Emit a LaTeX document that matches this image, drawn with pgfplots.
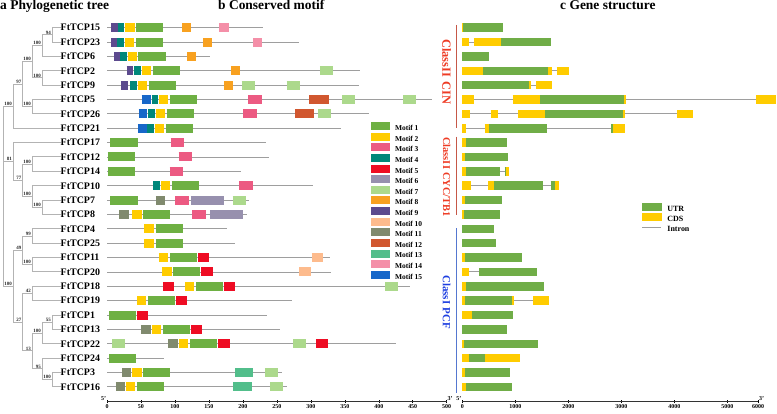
\documentclass[border=0pt]{standalone}
\usepackage{pgfplots}
\pgfplotsset{compat=1.18}
\usepackage{fontspec}
\setmainfont{Liberation Serif}
\newcommand\fs[1]{\fontsize{#1}{#1}\selectfont\bfseries}
\definecolor{mA}{HTML}{6EB043}
\definecolor{mB}{HTML}{FFCC00}
\definecolor{mC}{HTML}{EC5A82}
\definecolor{mD}{HTML}{00877A}
\definecolor{mE}{HTML}{EE0C23}
\definecolor{mF}{HTML}{9790AE}
\definecolor{mG}{HTML}{ACD98C}
\definecolor{mH}{HTML}{F8A120}
\definecolor{mI}{HTML}{5C4A8E}
\definecolor{mJ}{HTML}{FDBB8D}
\definecolor{mK}{HTML}{808A6E}
\definecolor{mL}{HTML}{D1572F}
\definecolor{mM}{HTML}{52BE8B}
\definecolor{mN}{HTML}{F48FA8}
\definecolor{mO}{HTML}{1767C9}
\definecolor{utr}{HTML}{70AD47}
\definecolor{cds}{HTML}{FFCC00}
\definecolor{bb}{HTML}{9E9E9E}
\definecolor{treec}{HTML}{B3B3B3}
\definecolor{clred}{HTML}{EE3B24}
\definecolor{clredl}{HTML}{C65848}
\definecolor{clblue}{HTML}{1E3FE0}
\definecolor{clbluel}{HTML}{5577D0}
\pgfplotsset{rows/.style={scale only axis, height=388.4bp, ymin=0, ymax=27.03, y dir=reverse, clip=false, unbounded coords=jump, anchor=south west},
 mot/.style={color=#1, line width=9bp},
 gen/.style={color=#1, line width=8.5bp}}
\tikzset{bs/.style={anchor=south east, inner sep=0.6bp, font=\fs{5}, text=black!85}}
\begin{document}
\begin{tikzpicture}[x=1bp,y=1bp]
\useasboundingbox (0,0) rectangle (777,413);
% titles
\node[anchor=base west, inner sep=0pt, font=\fs{13.5}] at (0,403) {a Phylogenetic tree};
\node[anchor=base west, inner sep=0pt, font=\fs{13.5}] at (218,403) {b Conserved motif};
\node[anchor=base west, inner sep=0pt, font=\fs{13.5}] at (560,403) {c Gene structure};
% ---------------- tree
\begin{axis}[rows, at={(0bp,11.3bp)}, width=107bp, xmin=0, xmax=107, hide axis]
\addplot[treec, line width=1bp] coordinates {
(60.5,1)(52.3,1)(52.3,2)(60.5,2) (nan,nan)
(52.3,1.5)(42.3,1.5)(42.3,3)(60.5,3) (nan,nan)
(60.5,4)(42.3,4)(42.3,5)(60.5,5) (nan,nan)
(42.3,2.25)(32.3,2.25)(32.3,4.5)(42.3,4.5) (nan,nan)
(60.5,6)(32.3,6)(32.3,7)(60.5,7) (nan,nan)
(32.3,3.375)(22.7,3.375)(22.7,6.5)(32.3,6.5) (nan,nan)
(22.7,4.9375)(13.3,4.9375)(13.3,8)(60.5,8) (nan,nan)
(60.5,10)(32.3,10)(32.3,11)(60.5,11) (nan,nan)
(60.5,13)(42.3,13)(42.3,14)(60.5,14) (nan,nan)
(60.5,12)(32.3,12)(32.3,13.5)(42.3,13.5) (nan,nan)
(32.3,10.5)(22.7,10.5)(22.7,12.75)(32.3,12.75) (nan,nan)
(60.5,9)(13.3,9)(13.3,11.625)(22.7,11.625) (nan,nan)
(60.5,15)(32.3,15)(32.3,16)(60.5,16) (nan,nan)
(60.5,17)(32.3,17)(32.3,18)(60.5,18) (nan,nan)
(32.3,15.5)(22.7,15.5)(22.7,17.5)(32.3,17.5) (nan,nan)
(60.5,19)(32.3,19)(32.3,20)(60.5,20) (nan,nan)
(60.5,21)(52.3,21)(52.3,22)(60.5,22) (nan,nan)
(52.3,21.5)(42.3,21.5)(42.3,23)(60.5,23) (nan,nan)
(60.5,25)(52.3,25)(52.3,26)(60.5,26) (nan,nan)
(60.5,24)(42.3,24)(42.3,25.5)(52.3,25.5) (nan,nan)
(42.3,22.25)(32.3,22.25)(32.3,24.75)(42.3,24.75) (nan,nan)
(32.3,19.5)(22.7,19.5)(22.7,23.5)(32.3,23.5) (nan,nan)
(22.7,16.5)(13.3,16.5)(13.3,21.5)(22.7,21.5) (nan,nan)
(13.3,6.46875)(3.3,6.46875)(3.3,19)(13.3,19) (nan,nan)
(3.3,10.3125)(13.3,10.3125)
};
\node[bs] at (axis cs:51.7,1.5) {94};
\node[bs] at (axis cs:41.7,2.25) {100};
\node[bs] at (axis cs:41.7,4.5) {100};
\node[bs] at (axis cs:31.7,3.375) {100};
\node[bs] at (axis cs:31.7,6.5) {100};
\node[bs] at (axis cs:22.1,4.9375) {97};
\node[bs] at (axis cs:12.7,6.46875) {100};
\node[bs] at (axis cs:31.7,10.5) {100};
\node[bs] at (axis cs:41.7,13.5) {100};
\node[bs] at (axis cs:31.7,12.75) {100};
\node[bs] at (axis cs:22.1,11.625) {77};
\node[bs] at (axis cs:12.7,10.3125) {81};
\node[bs] at (axis cs:31.7,15.5) {99};
\node[bs] at (axis cs:31.7,17.5) {100};
\node[bs] at (axis cs:22.1,16.5) {49};
\node[bs] at (axis cs:31.7,19.5) {42};
\node[bs] at (axis cs:51.7,21.5) {55};
\node[bs] at (axis cs:41.7,22.25) {100};
\node[bs] at (axis cs:51.7,25.5) {100};
\node[bs] at (axis cs:41.7,24.75) {95};
\node[bs] at (axis cs:31.7,23.5) {13};
\node[bs] at (axis cs:22.1,21.5) {27};
\node[bs] at (axis cs:12.7,19) {100};
\end{axis}
% ---------------- motifs
\begin{axis}[rows, at={(107bp,11.3bp)}, width=339.7bp, xmin=0, xmax=500,
 axis x line=bottom, axis y line=left, axis line style={-, line width=0.6bp, black!80},
 y axis line style={draw=none},
 xtick={0,50,...,500}, ytick={1,...,26},
 yticklabels={FtTCP15,FtTCP23,FtTCP6,FtTCP2,FtTCP9,FtTCP5,FtTCP26,FtTCP21,FtTCP17,FtTCP12,FtTCP14,FtTCP10,FtTCP7,FtTCP8,FtTCP4,FtTCP25,FtTCP11,FtTCP20,FtTCP18,FtTCP19,FtTCP1,FtTCP13,FtTCP22,FtTCP24,FtTCP3,FtTCP16},
 ytick style={draw=none},
 yticklabel style={anchor=west, inner sep=0pt, xshift=-45bp, font=\fs{10}},
 xticklabel style={font=\fs{6}, inner sep=1.5bp},
 /pgf/number format/assume math mode=true,
 tick align=center, major tick length=3bp,
 xtick style={line width=0.5bp, black},
 legend cell align=left,
 legend style={at={(0.7654,0.7201)}, anchor=north west, draw=none, fill=none, inner sep=0pt, row sep=0.63bp, font=\fs{7.5}, nodes={inner xsep=1.5bp, inner ysep=0pt}},
 legend image code/.code={\draw[line width=8bp] (0bp,2.6bp) -- (18.3bp,2.6bp);}
]
\addplot[bb, line width=0.9bp, forget plot] coordinates {
(0,1)(230,1)(nan,nan)(0,2)(282,2)(nan,nan)(0,3)(151.6,3)(nan,nan)(0,4)(372.4,4)(nan,nan)(0,5)(371.4,5)(nan,nan)
(0,6)(478.4,6)(nan,nan)(0,7)(386.1,7)(nan,nan)(0,8)(344,8)(nan,nan)(0,9)(234,9)(nan,nan)(0,10)(238,10)(nan,nan)
(0,11)(196.7,11)(nan,nan)(0,12)(303.7,12)(nan,nan)(0,13)(209,13)(nan,nan)(0,14)(206,14)(nan,nan)(0,15)(177.1,15)(nan,nan)
(0,16)(188.4,16)(nan,nan)(0,17)(328.2,17)(nan,nan)(0,18)(329.7,18)(nan,nan)(0,19)(446.5,19)(nan,nan)(0,20)(272,20)(nan,nan)
(0,21)(235,21)(nan,nan)(0,22)(254.3,22)(nan,nan)(0,23)(425,23)(nan,nan)(0,24)(84.4,24)(nan,nan)(0,25)(257,25)(nan,nan)(0,26)(264.9,26)};
% Motif 1
\addplot[mot=mA] coordinates {
(42.7,1)(82.9,1)(nan,nan)(42.7,2)(81.9,2)(nan,nan)(46.1,3)(86.3,3)(nan,nan)(67.2,4)(107.4,4)(nan,nan)(61.3,5)(101.6,5)(nan,nan)
(92.7,6)(133,6)(nan,nan)(87.8,7)(128,7)(nan,nan)(86.8,8)(127.1,8)(nan,nan)(4.9,9)(45.1,9)(nan,nan)(1,10)(41.2,10)(nan,nan)
(1,11)(41.2,11)(nan,nan)(95.2,12)(135.4,12)(nan,nan)(4.9,13)(45.1,13)(nan,nan)(53.5,14)(93.2,14)(nan,nan)(71.6,15)(111.4,15)(nan,nan)
(71.6,16)(111.4,16)(nan,nan)(92.7,17)(133,17)(nan,nan)(97.1,18)(137.4,18)(nan,nan)(131,19)(170.7,19)(nan,nan)(60.3,20)(100.6,20)(nan,nan)
(3,21)(42.7,21)(nan,nan)(81.9,22)(122.2,22)(nan,nan)(122.2,23)(162.4,23)(nan,nan)(3,24)(42.7,24)(nan,nan)(53.5,25)(93.2,25)(nan,nan)(44.2,26)(83.9,26)};
\addlegendentry{Motif 1}
% Motif 2
\addplot[mot=mB] coordinates {
(26.5,1)(41.2,1)(nan,nan)(26.5,2)(40.2,2)(nan,nan)(30.4,3)(43.7,3)(nan,nan)(51.5,4)(64.8,4)(nan,nan)(45.1,5)(59.4,5)(nan,nan)
(77,6)(90.3,6)(nan,nan)(72.1,7)(85.4,7)(nan,nan)(70.6,8)(83.9,8)(nan,nan)(79.5,12)(92.7,12)(nan,nan)(37.3,14)(51,14)(nan,nan)
(55,15)(69.2,15)(nan,nan)(55,16)(69.2,16)(nan,nan)(76.5,17)(90.3,17)(nan,nan)(81,18)(95.2,18)(nan,nan)(114.8,19)(128.5,19)(nan,nan)
(44.2,20)(57.9,20)(nan,nan)(65.7,22)(79.5,22)(nan,nan)(106,23)(119.7,23)(nan,nan)(37.3,25)(51,25)(nan,nan)(28,26)(41.7,26)};
\addlegendentry{Motif 2}
% Motif 3
\addplot[mot=mC] coordinates {
(208,6)(228.6,6)(nan,nan)(200.7,7)(220.3,7)(nan,nan)(93.7,9)(113.8,9)(nan,nan)(105.5,10)(125.6,10)(nan,nan)
(92.2,11)(112.4,11)(nan,nan)(194.3,12)(214.4,12)(nan,nan)(100.1,13)(120.7,13)(nan,nan)(125.6,14)(145.7,14)};
\addlegendentry{Motif 3}
% Motif 4
\addplot[mot=mD] coordinates {
(15.7,1)(25.5,1)(nan,nan)(15.2,2)(25,2)(nan,nan)(19.1,3)(28.9,3)(nan,nan)(40.2,4)(50,4)(nan,nan)(33.9,5)(43.7,5)(nan,nan)
(65.7,6)(75.5,6)(nan,nan)(60.8,7)(70.7,7)(nan,nan)(59.4,8)(69.2,8)(nan,nan)(68.2,12)(78,12)};
\addlegendentry{Motif 4}
% Motif 5
\addplot[mot=mE] coordinates {
(134,17)(150.6,17)(nan,nan)(138.8,18)(155.5,18)(nan,nan)(82.4,19)(99.1,19)(nan,nan)(172.2,19)(188.9,19)(nan,nan)
(101.6,20)(118.2,20)(nan,nan)(43.7,21)(60.8,21)(nan,nan)(123.1,22)(139.8,22)(nan,nan)(163.4,23)(180.5,23)(nan,nan)(307.6,23)(324.8,23)};
\addlegendentry{Motif 5}
% Motif 6
\addplot[mot=mF] coordinates {(123.1,13)(172.2,13)(nan,nan)(151.6,14)(200.7,14)};
\addlegendentry{Motif 6}
% Motif 7
\addplot[mot=mG] coordinates {
(313.5,4)(332.3,4)(nan,nan)(198.2,5)(217.3,5)(nan,nan)(264.5,5)(284.1,5)(nan,nan)(345.6,6)(364.7,6)(nan,nan)(436.1,6)(454.8,6)(nan,nan)
(311.1,7)(329.7,7)(nan,nan)(185,13)(204.1,13)(nan,nan)(409.2,19)(427.9,19)(nan,nan)(7.9,23)(26.5,23)(nan,nan)(274.2,23)(292.9,23)(nan,nan)
(232.5,25)(251.7,25)(nan,nan)(239.9,26)(258.5,26)};
\addlegendentry{Motif 7}
% Motif 8
\addplot[mot=mH] coordinates {
(110.4,1)(123.1,1)(nan,nan)(141.3,2)(154.1,2)(nan,nan)(118.2,3)(131,3)(nan,nan)(182.5,4)(195.8,4)(nan,nan)(172.2,5)(185,5)};
\addlegendentry{Motif 8}
% Motif 9
\addplot[mot=mI] coordinates {
(5.9,1)(15.7,1)(nan,nan)(5.9,2)(15.2,2)(nan,nan)(10.3,3)(19.1,3)(nan,nan)(28.9,4)(38.8,4)(nan,nan)(20.6,5)(30.9,5)};
\addlegendentry{Motif 9}
% Motif 10
\addplot[mot=mJ] coordinates {(301.3,17)(317.5,17)(nan,nan)(283.1,18)(300.3,18)};
\addlegendentry{Motif 10}
% Motif 11
\addplot[mot=mK] coordinates {
(72.1,13)(85.9,13)(nan,nan)(18.2,14)(31.9,14)(nan,nan)(50,22)(64.3,22)(nan,nan)(90.3,23)(104.5,23)(nan,nan)(22.1,25)(35.8,25)(nan,nan)(12.8,26)(26.5,26)};
\addlegendentry{Motif 11}
% Motif 12
\addplot[mot=mL] coordinates {(297.7,6)(326.3,6)(nan,nan)(276.7,7)(305.2,7)};
\addlegendentry{Motif 12}
% Motif 13
\addplot[mot=mM] coordinates {(188.4,25)(215.4,25)(nan,nan)(186,26)(213,26)};
\addlegendentry{Motif 13}
% Motif 14
\addplot[mot=mN] coordinates {(165.3,1)(179.1,1)(nan,nan)(214.9,2)(228.1,2)};
\addlegendentry{Motif 14}
% Motif 15
\addplot[mot=mO] coordinates {(51,6)(64.3,6)(nan,nan)(46.6,7)(59.4,7)(nan,nan)(45.6,8)(58.4,8)};
\addlegendentry{Motif 15}
\node[anchor=south east, inner sep=0.8bp, font=\fs{6}] at (axis cs:0,27.03) {5'};
\node[anchor=south west, inner sep=0.8bp, font=\fs{6}] at (axis cs:500,27.03) {3'};
\end{axis}
% ---------------- gene structure
\begin{axis}[rows, at={(462.3bp,11.3bp)}, width=295.7bp, xmin=0, xmax=5580,
 axis x line=bottom, axis y line=none, axis line style={-, line width=0.6bp, black!80},
 xtick={0,1000,2000,3000,4000,5000,5580}, xticklabels={0,1000,2000,3000,4000,5000,6000},
 xticklabel style={font=\fs{6}, inner sep=1.5bp},
 tick align=center, major tick length=3bp,
 xtick style={line width=0.5bp, black},
 legend cell align=left,
 legend style={at={(0.5942,0.5115)}, anchor=north west, draw=none, fill=none, inner sep=0pt, row sep=0bp, font=\fs{8}, nodes={inner xsep=1.5bp, inner ysep=0pt}},
 legend image code/.code={\draw[line width=8bp] (0bp,2.7bp) -- (19.7bp,2.7bp);}
]
\addplot[bb, line width=1bp, forget plot] coordinates {
(0,1)(775,1)(nan,nan)(0,2)(1668,2)(nan,nan)(0,3)(510,3)(nan,nan)(0,4)(2019,4)(nan,nan)(0,5)(1687,5)(nan,nan)
(0,6)(5919,6)(nan,nan)(0,7)(4358,7)(nan,nan)(0,8)(3070,8)(nan,nan)(0,9)(850,9)(nan,nan)(0,10)(862,10)(nan,nan)
(0,11)(887,11)(nan,nan)(0,12)(1825,12)(nan,nan)(0,13)(749,13)(nan,nan)(0,14)(711,14)(nan,nan)(0,15)(592,15)(nan,nan)
(0,16)(630,16)(nan,nan)(0,17)(1132,17)(nan,nan)(0,18)(1415,18)(nan,nan)(0,19)(1547,19)(nan,nan)(0,20)(1636,20)(nan,nan)
(0,21)(963,21)(nan,nan)(0,22)(843,22)(nan,nan)(0,23)(1434,23)(nan,nan)(0,24)(1094,24)(nan,nan)(0,25)(900,25)(nan,nan)(0,26)(938,26)};
\addplot[gen=utr] coordinates {
(20,1)(775,1)(nan,nan)(730,2)(1668,2)(nan,nan)(0,3)(510,3)(nan,nan)(385,4)(1623,4)(nan,nan)(0,5)(1251,5)(nan,nan)
(1466,6)(3051,6)(nan,nan)(1566,7)(3038,7)(nan,nan)(498,8)(1592,8)(nan,nan)(2806,8)(2849,8)(nan,nan)(70,9)(850,9)(nan,nan)
(60,10)(862,10)(nan,nan)(70,11)(711,11)(nan,nan)(800,11)(820,11)(nan,nan)(604,12)(1528,12)(nan,nan)(1668,12)(1749,12)(nan,nan)
(51,13)(749,13)(nan,nan)(32,14)(711,14)(nan,nan)(0,15)(592,15)(nan,nan)(0,16)(630,16)(nan,nan)(45,17)(1132,17)(nan,nan)
(321,18)(1415,18)(nan,nan)(64,19)(1547,19)(nan,nan)(45,20)(945,20)(nan,nan)(183,21)(963,21)(nan,nan)(0,22)(843,22)(nan,nan)
(26,23)(1434,23)(nan,nan)(133,24)(422,24)(nan,nan)(45,25)(900,25)(nan,nan)(64,26)(938,26)};
\addlegendentry{UTR}
\addplot[gen=cds] coordinates {
(0,1)(20,1)(nan,nan)(0,2)(133,2)(nan,nan)(220,2)(730,2)(nan,nan)(0,4)(385,4)(nan,nan)(1623,4)(1687,4)(nan,nan)(1781,4)(2019,4)(nan,nan)
(1251,5)(1296,5)(nan,nan)(1391,5)(1687,5)(nan,nan)(0,6)(221,6)(nan,nan)(951,6)(1466,6)(nan,nan)(3051,6)(3083,6)(nan,nan)(5542,6)(5919,6)(nan,nan)
(0,7)(145,7)(nan,nan)(535,7)(673,7)(nan,nan)(1057,7)(1566,7)(nan,nan)(3038,7)(3070,7)(nan,nan)(4057,7)(4358,7)(nan,nan)
(0,8)(70,8)(nan,nan)(422,8)(498,8)(nan,nan)(2849,8)(3070,8)(nan,nan)(0,9)(70,9)(nan,nan)(0,10)(60,10)(nan,nan)
(0,11)(70,11)(nan,nan)(820,11)(887,11)(nan,nan)(0,12)(164,12)(nan,nan)(491,12)(604,12)(nan,nan)(1749,12)(1825,12)(nan,nan)
(0,13)(51,13)(nan,nan)(0,14)(32,14)(nan,nan)(0,17)(45,17)(nan,nan)(0,18)(126,18)(nan,nan)(0,19)(64,19)(nan,nan)
(0,20)(45,20)(nan,nan)(945,20)(970,20)(nan,nan)(1340,20)(1636,20)(nan,nan)(0,21)(183,21)(nan,nan)(0,23)(26,23)(nan,nan)
(0,24)(133,24)(nan,nan)(422,24)(1094,24)(nan,nan)(0,25)(45,25)(nan,nan)(0,26)(64,26)};
\addlegendentry{CDS}
\addlegendimage{bb, legend image code/.code={\path[draw=none, fill=none] (0bp,-1.3bp) rectangle (19.7bp,6.7bp); \draw[line width=1bp] (0bp,2.7bp) -- (18.7bp,2.7bp);}}
\addlegendentry{Intron}
\node[anchor=south east, inner sep=0.8bp, font=\fs{6}] at (axis cs:0,27.03) {5'};
\node[anchor=south west, inner sep=0.8bp, font=\fs{6}] at (axis cs:5580,27.03) {3'};
\end{axis}
% class labels
\draw[clredl, line width=0.8bp] (456.7,388) -- (456.7,284.7);
\draw[clredl, line width=0.8bp] (456.7,276.3) -- (456.7,198);
\draw[clbluel, line width=0.8bp] (456.7,185) -- (456.7,20);
\node[rotate=-90, text=clred, font=\fs{12.5}, inner sep=0pt] at (446.7,341.3) {ClassII\hspace{4bp}CIN};
\node[rotate=-90, text=clred, font=\fs{10.5}, inner sep=0pt] at (446.7,236) {ClassII\hspace{3bp}CYC/TB1};
\node[rotate=-90, text=clblue, font=\fs{11}, inner sep=0pt] at (446.7,111) {ClassI\hspace{3bp}PCF};
\end{tikzpicture}
\end{document}
